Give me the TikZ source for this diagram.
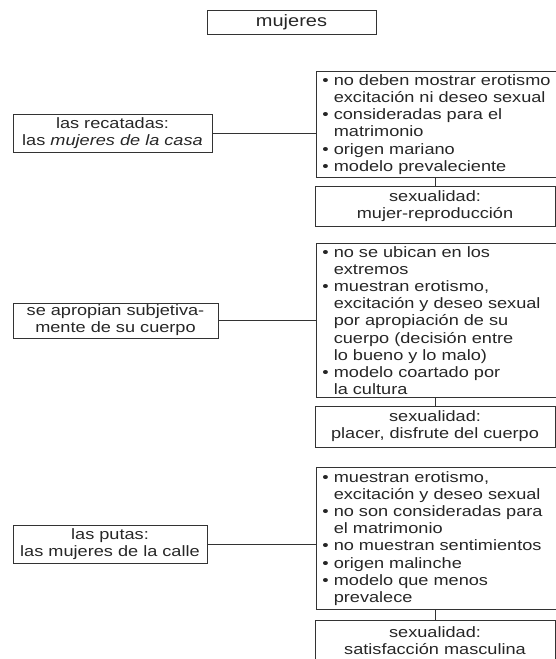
\documentclass[tikz,border=0pt]{standalone}
\usepackage{fontspec}
\setmainfont{Liberation Sans}[FakeStretch=1.21]

\tikzset{
  caja/.style={rectangle, draw=black!80, line width=0.9pt, text=black!85, inner sep=1pt},
  titulo/.style={caja, minimum width=169pt, minimum height=24pt, font=\fontsize{16.5}{19}\selectfont},
  grupo/.style={caja, align=center, minimum height=38pt, font=\fontsize{15}{17.2}\selectfont},
  lista/.style={caja, anchor=north west, inner xsep=6pt, text width=232pt, align=left,
                minimum width=244pt, font=\fontsize{15}{17.2}\selectfont},
  sexo/.style={caja, align=center, minimum width=240pt, minimum height=40pt, font=\fontsize{15}{17.2}\selectfont},
  linea/.style={draw=black!80, line width=0.9pt},
}
\newcommand{\blt}{\textbullet\ }
\newcommand{\sgr}{\hphantom{\textbullet\ }}

\begin{document}
\begin{tikzpicture}[x=1pt, y=-1pt]
  \useasboundingbox (0,0) rectangle (556,659);

  % Title
  \node[titulo] (mujeres) at (291.5,22) {mujeres};

  % Left column
  \node[grupo, minimum width=199pt] (recatadas) at (112.5,133)
        {las recatadas:\\las \emph{mujeres de la casa}};
  \node[grupo, minimum width=205pt, minimum height=35pt] (apropian) at (115.5,320.5)
        {se apropian subjetiva-\\mente de su cuerpo};
  \node[grupo, minimum width=194pt] (putas) at (110,544)
        {las putas:\\las mujeres de la calle};

  % Lists (right column)
  \node[lista, minimum height=106pt] (rec-rasgos) at (316,71)
        {\blt no deben mostrar erotismo\\
         \sgr excitación ni deseo sexual\\
         \blt consideradas para el\\
         \sgr matrimonio\\
         \blt origen mariano\\
         \blt modelo prevaleciente};
  \node[lista, minimum height=154pt] (apr-rasgos) at (316,243)
        {\blt no se ubican en los\\
         \sgr extremos\\
         \blt muestran erotismo,\\
         \sgr excitación y deseo sexual\\
         \sgr por apropiación de su\\
         \sgr cuerpo (decisión entre\\
         \sgr lo bueno y lo malo)\\
         \blt modelo coartado por\\
         \sgr la cultura};
  \node[lista, minimum height=142pt] (put-rasgos) at (316,467)
        {\blt muestran erotismo,\\
         \sgr excitación y deseo sexual\\
         \blt no son consideradas para\\
         \sgr el matrimonio\\
         \blt no muestran sentimientos\\
         \blt origen malinche\\
         \blt modelo que menos\\
         \sgr prevalece};

  % Sexualidad boxes
  \node[sexo] (rec-sex) at (435,206) {sexualidad:\\mujer-reproducción};
  \node[sexo, minimum height=41pt] (apr-sex) at (435,426.5) {sexualidad:\\placer, disfrute del cuerpo};
  \node[sexo, minimum height=41pt] (put-sex) at (435,640.5) {sexualidad:\\satisfacción masculina};

  % Connectors
  \draw[linea] (recatadas.east) -- (recatadas.east -| rec-rasgos.west);
  \draw[linea] (apropian.east)  -- (apropian.east -| apr-rasgos.west);
  \draw[linea] (putas.east)     -- (putas.east -| put-rasgos.west);
  \draw[linea] (rec-rasgos.south -| rec-sex.north) -- (rec-sex.north);
  \draw[linea] (apr-rasgos.south -| apr-sex.north) -- (apr-sex.north);
  \draw[linea] (put-rasgos.south -| put-sex.north) -- (put-sex.north);
\end{tikzpicture}
\end{document}
